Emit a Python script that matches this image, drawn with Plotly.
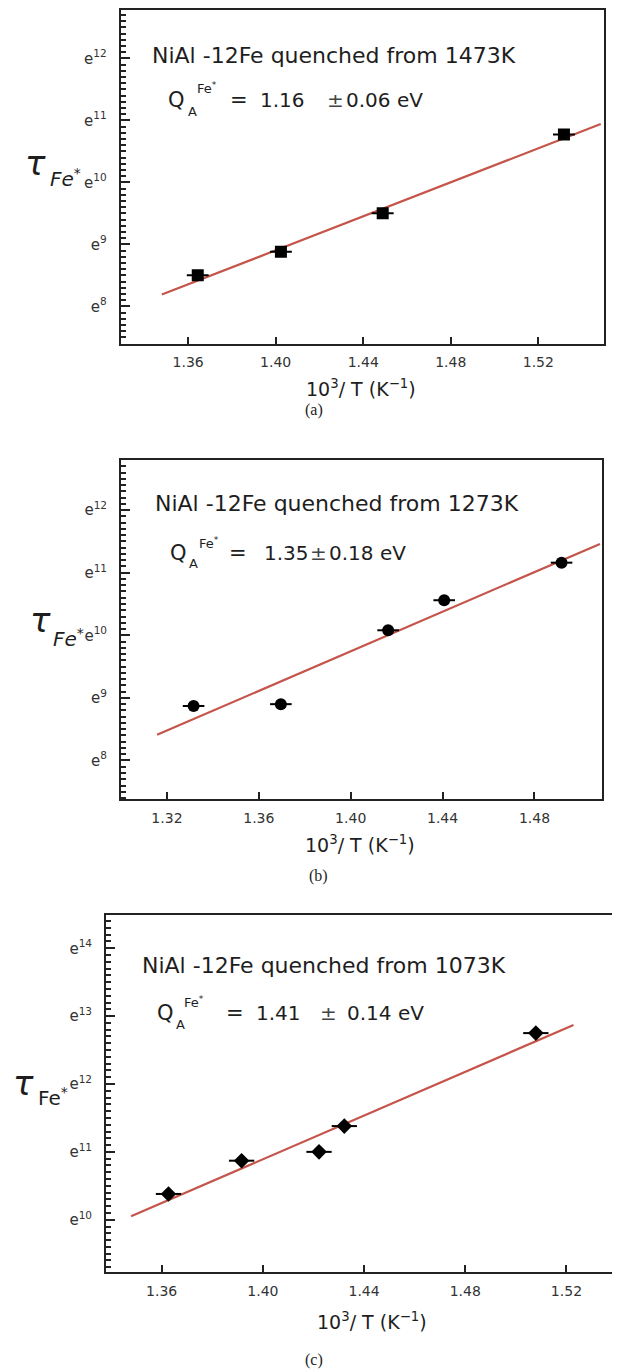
import plotly.graph_objects as go

# ---------------- data ----------------
# panel (a) NiAl-12Fe quenched from 1473K
x_a = [1.3644, 1.4024, 1.4489, 1.5317]
ln_tau_a = [8.50, 8.88, 9.50, 10.77]
xerr_a = [0.005, 0.005, 0.005, 0.005]
fit_x_a = [1.348, 1.5485]
fit_ln_a = [8.19, 10.94]

# panel (b) NiAl-12Fe quenched from 1273K
x_b = [1.3316, 1.3696, 1.4163, 1.4407, 1.4918]
ln_tau_b = [8.87, 8.90, 10.08, 10.56, 11.16]
xerr_b = [0.0047, 0.0047, 0.0047, 0.0047, 0.0047]
fit_x_b = [1.3157, 1.5085]
fit_ln_b = [8.41, 11.46]

# panel (c) NiAl-12Fe quenched from 1073K
x_c = [1.3627, 1.3916, 1.4222, 1.4322, 1.5079]
ln_tau_c = [10.38, 10.87, 11.00, 11.38, 12.75]
xerr_c = [0.005, 0.005, 0.005, 0.005, 0.005]
fit_x_c = [1.3479, 1.5228]
fit_ln_c = [10.05, 12.87]

xticks_a = [1.36, 1.40, 1.44, 1.48, 1.52]
xticks_b = [1.32, 1.36, 1.40, 1.44, 1.48]
xticks_c = [1.36, 1.40, 1.44, 1.48, 1.52]
yticks_ab = [8, 9, 10, 11, 12]
yticks_c = [10, 11, 12, 13, 14]

titles = ["NiAl -12Fe quenched from 1473K",
          "NiAl -12Fe quenched from 1273K",
          "NiAl -12Fe quenched from 1073K"]
q_values = ["1.16", "1.35", "1.41"]
q_errors = ["0.06 eV", "0.18 eV", "0.14 eV"]
panel_labels = ["(a)", "(b)", "(c)"]

# ---------------- layout helpers ----------------
PAGE_W, PAGE_H = 620, 1372
OFF = 8                      # default body margin of the html page
W, H = PAGE_W - OFF, PAGE_H - OFF
FONT = "DejaVu Sans"
AXC = "#222222"
TXT = "#1e1e1e"
FITC = "#c5554b"


def px(x):
    return (x - OFF) / W


def py(y):
    return 1 - (y - OFF) / H


def minor_positions(lo, hi, step=0.1):
    start = int(lo / step) + 1
    stop = int(hi / step)
    return [round(k * step, 3) for k in range(start, stop + 1) if abs(k * step - round(k * step)) > 1e-6]


fig = go.Figure()

panels = [
    dict(x=x_a, y=ln_tau_a, e=xerr_a, fx=fit_x_a, fy=fit_ln_a, sym="square", msize=12,
         xt=xticks_a, yt=yticks_ab, xr=[1.3292, 1.55], yr=[7.40, 12.78],
         dom=(120.7, 604, 10, 343.5)),
    dict(x=x_b, y=ln_tau_b, e=xerr_b, fx=fit_x_b, fy=fit_ln_b, sym="circle", msize=12,
         xt=xticks_b, yt=yticks_ab, xr=[1.300, 1.5094], yr=[7.38, 12.80],
         dom=(121, 602, 460, 799.3)),
    dict(x=x_c, y=ln_tau_c, e=xerr_c, fx=fit_x_c, fy=fit_ln_c, sym="diamond", msize=12,
         xt=xticks_c, yt=yticks_c, xr=[1.338, 1.5388], yr=[9.23, 14.49],
         dom=(106, 614, 915, 1272)),
]

for i, p in enumerate(panels, start=1):
    xa = "x" if i == 1 else f"x{i}"
    ya = "y" if i == 1 else f"y{i}"
    ym = f"y{i + 3}"
    fig.add_trace(go.Scatter(x=p["fx"], y=p["fy"], mode="lines",
                             line=dict(color=FITC, width=2.2),
                             xaxis=xa, yaxis=ya, showlegend=False))
    fig.add_trace(go.Scatter(x=p["x"], y=p["y"], mode="markers",
                             marker=dict(symbol=p["sym"], size=p["msize"], color="black"),
                             error_x=dict(type="data", array=p["e"], width=0,
                                          thickness=2, color="black"),
                             xaxis=xa, yaxis=ya, showlegend=False))
    # empty trace to carry the minor-tick overlay axis
    fig.add_trace(go.Scatter(x=[None], y=[None], mode="markers", xaxis=xa, yaxis=ym,
                             showlegend=False, hoverinfo="skip"))
    l, r, t, b = p["dom"]
    xkey = "xaxis" if i == 1 else f"xaxis{i}"
    ykey = "yaxis" if i == 1 else f"yaxis{i}"
    fig.layout[xkey] = dict(
        domain=[px(l), px(r)], range=p["xr"], anchor=ya,
        tickmode="array", tickvals=p["xt"], ticktext=[f"{v:.2f}" for v in p["xt"]],
        ticks="inside", ticklen=7, tickwidth=2, tickcolor=AXC,
        showline=True, linewidth=2, linecolor=AXC, mirror=True,
        showgrid=False, zeroline=False, ticklabelstandoff=5,
        tickfont=dict(family=FONT, size=14, color="#333"))
    fig.layout[ykey] = dict(
        domain=[py(b), py(t)], range=p["yr"], anchor=xa,
        tickmode="array", tickvals=p["yt"],
        ticktext=[f"e<sup>{v}</sup>" for v in p["yt"]],
        ticks="inside", ticklen=9, tickwidth=2, tickcolor=AXC,
        showline=True, linewidth=2, linecolor=AXC, mirror=True,
        showgrid=False, zeroline=False, ticklabelstandoff=9,
        tickfont=dict(family=FONT, size=15, color="#333"))
    fig.layout[f"yaxis{i + 3}"] = dict(
        overlaying=ya, anchor=xa, side="left", range=p["yr"],
        tickmode="array", tickvals=minor_positions(p["yr"][0], p["yr"][1]),
        ticks="inside", ticklen=5, tickwidth=1.5, tickcolor=AXC,
        showticklabels=False, showline=False, showgrid=False, zeroline=False)

ann = []


def A(text, x, y, size, xanchor="left", family=FONT, color=TXT):
    ann.append(dict(text=text, x=px(x), y=py(y), xref="paper", yref="paper",
                    xanchor=xanchor, yanchor="middle", showarrow=False,
                    font=dict(family=family, size=size, color=color)))


# text positions per panel (page pixels)
txt_pos = [
    dict(title=(150, 56), q=(166, 100), a=(186, 111), fe=(194.5, 88), eq=228, val=258, pm=325, err=344,
         tau=(36, 163), fe_lbl=(48, 178), italic=True, xt=(361, 388), pl=(314, 410)),
    dict(title=(152.7, 503), q=(168.3, 553), a=(186.7, 563), fe=(196.7, 543), eq=227, val=261.7, pm=308, err=327,
         tau=(40, 620), fe_lbl=(51, 638), italic=True, xt=(360, 844), pl=(318, 876)),
    dict(title=(139.7, 965), q=(154.8, 1013), a=(173.8, 1024), fe=(181.8, 1002), eq=224, val=254, pm=317.6, err=344.6,
         tau=(23, 1083), fe_lbl=(36, 1097), italic=False, xt=(372, 1321), pl=(314, 1360)),
]

for k, tp in enumerate(txt_pos):
    A(titles[k], tp["title"][0], tp["title"][1], 22)
    A("Q", tp["q"][0], tp["q"][1], 21)
    A("A", tp["a"][0], tp["a"][1], 13)
    A("Fe<sup>*</sup>", tp["fe"][0], tp["fe"][1], 13)
    A("=", tp["eq"], tp["q"][1], 21)
    A(q_values[k], tp["val"], tp["q"][1], 20)
    A("±", tp["pm"], tp["q"][1], 20, color="#444")
    A(q_errors[k], tp["err"], tp["q"][1], 20)
    # y-axis label
    A("<i>τ</i>", tp["tau"][0], tp["tau"][1], 34, xanchor="center")
    fe_txt = "<i>Fe</i><sup>*</sup>" if tp["italic"] else "Fe<sup>*</sup>"
    A(fe_txt, tp["fe_lbl"][0], tp["fe_lbl"][1], 20)
    # x-axis title
    A("10<sup>3</sup>/ T (K<sup>−1</sup>)", tp["xt"][0], tp["xt"][1], 19, xanchor="center")
    # panel label
    A(panel_labels[k], tp["pl"][0], tp["pl"][1], 16, xanchor="center", family="Liberation Serif")

fig.update_layout(
    width=W, height=H, margin=dict(l=0, r=0, t=0, b=0),
    paper_bgcolor="white", plot_bgcolor="white",
    annotations=ann, showlegend=False)

fig.write_html("out.html")
